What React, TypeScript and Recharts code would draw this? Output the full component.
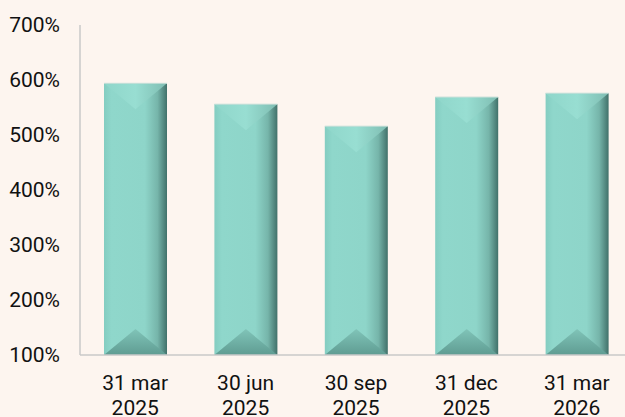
import { BarChart, Bar, XAxis, YAxis } from 'recharts';

const periods = ['31 mar\n2025', '30 jun\n2025', '30 sep\n2025', '31 dec\n2025', '31 mar\n2026'];
const ratios = [594, 556, 516, 569, 576];
const yTicks = [100, 200, 300, 400, 500, 600, 700];

const chartData = periods.map((period, i) => ({ period, ratio: ratios[i] }));

const FONT = 'Roboto, "Noto Sans", sans-serif';

// bevelled bar, like the office "3D" bar preset
function BevelBar(props: any) {
  const { x, y, width, height } = props;
  if (!height || height <= 0) return null;
  const d = Math.min(26, width * 0.42, height / 2);
  const cx = x + width / 2;
  return (
    <g>
      <rect x={x} y={y} width={width} height={height} fill="url(#barBody)" />
      <polygon points={`${x},${y} ${x + width},${y} ${cx},${y + d}`} fill="url(#barTop)" />
      <polygon
        points={`${x},${y + height} ${x + width},${y + height} ${cx},${y + height - d}`}
        fill="url(#barBottom)"
      />
      <line x1={x} y1={y} x2={x + width} y2={y} stroke="#c9e0d9" strokeWidth={1} />
    </g>
  );
}

function PeriodTick({ x, y, payload }: any) {
  const lines = String(payload.value).split('\n');
  return (
    <text x={x} y={y} textAnchor="middle" fill="#111" fontSize={21} fontFamily={FONT}>
      {lines.map((line, i) => (
        <tspan key={i} x={x} dy={i === 0 ? 27 : 25}>
          {line}
        </tspan>
      ))}
    </text>
  );
}

export default function App() {
  return (
    <div
      style={{
        position: 'absolute',
        left: 0,
        top: 0,
        width: 625,
        height: 417,
        overflow: 'hidden',
        background: '#fdf5ef',
      }}
    >
      <BarChart
        width={632}
        height={417}
        data={chartData}
        margin={{ top: 25, right: 0, bottom: 0, left: 0 }}
        barCategoryGap={0}
      >
        <defs>
          <linearGradient id="barBody" x1="0" y1="0" x2="1" y2="0">
            <stop offset="0%" stopColor="#84cdc1" />
            <stop offset="12%" stopColor="#8fd7cb" />
            <stop offset="65%" stopColor="#8ed5c9" />
            <stop offset="85%" stopColor="#76b5aa" />
            <stop offset="100%" stopColor="#41716a" />
          </linearGradient>
          <linearGradient id="barTop" x1="0" y1="0" x2="1" y2="0">
            <stop offset="0%" stopColor="#8fd6ca" />
            <stop offset="50%" stopColor="#98ded2" />
            <stop offset="100%" stopColor="#7fbdb2" />
          </linearGradient>
          <linearGradient id="barBottom" x1="0" y1="0" x2="0" y2="1">
            <stop offset="0%" stopColor="#80c4b8" />
            <stop offset="100%" stopColor="#5f9c92" />
          </linearGradient>
        </defs>
        <XAxis
          dataKey="period"
          tick={<PeriodTick />}
          tickLine={false}
          axisLine={{ stroke: '#c8c8c8', strokeWidth: 1.5 }}
          height={62}
          interval={0}
        />
        <YAxis
          domain={[100, 700]}
          ticks={yTicks}
          tickFormatter={(v) => `${v}%`}
          tickLine={false}
          tickSize={0}
          tickMargin={20}
          axisLine={{ stroke: '#c8c8c8', strokeWidth: 1.5 }}
          width={80}
          allowDataOverflow
          tick={{ fill: '#111', fontSize: 21, fontFamily: FONT }}
        />
        <Bar dataKey="ratio" barSize={63} shape={<BevelBar />} isAnimationActive={false} />
      </BarChart>
    </div>
  );
}
